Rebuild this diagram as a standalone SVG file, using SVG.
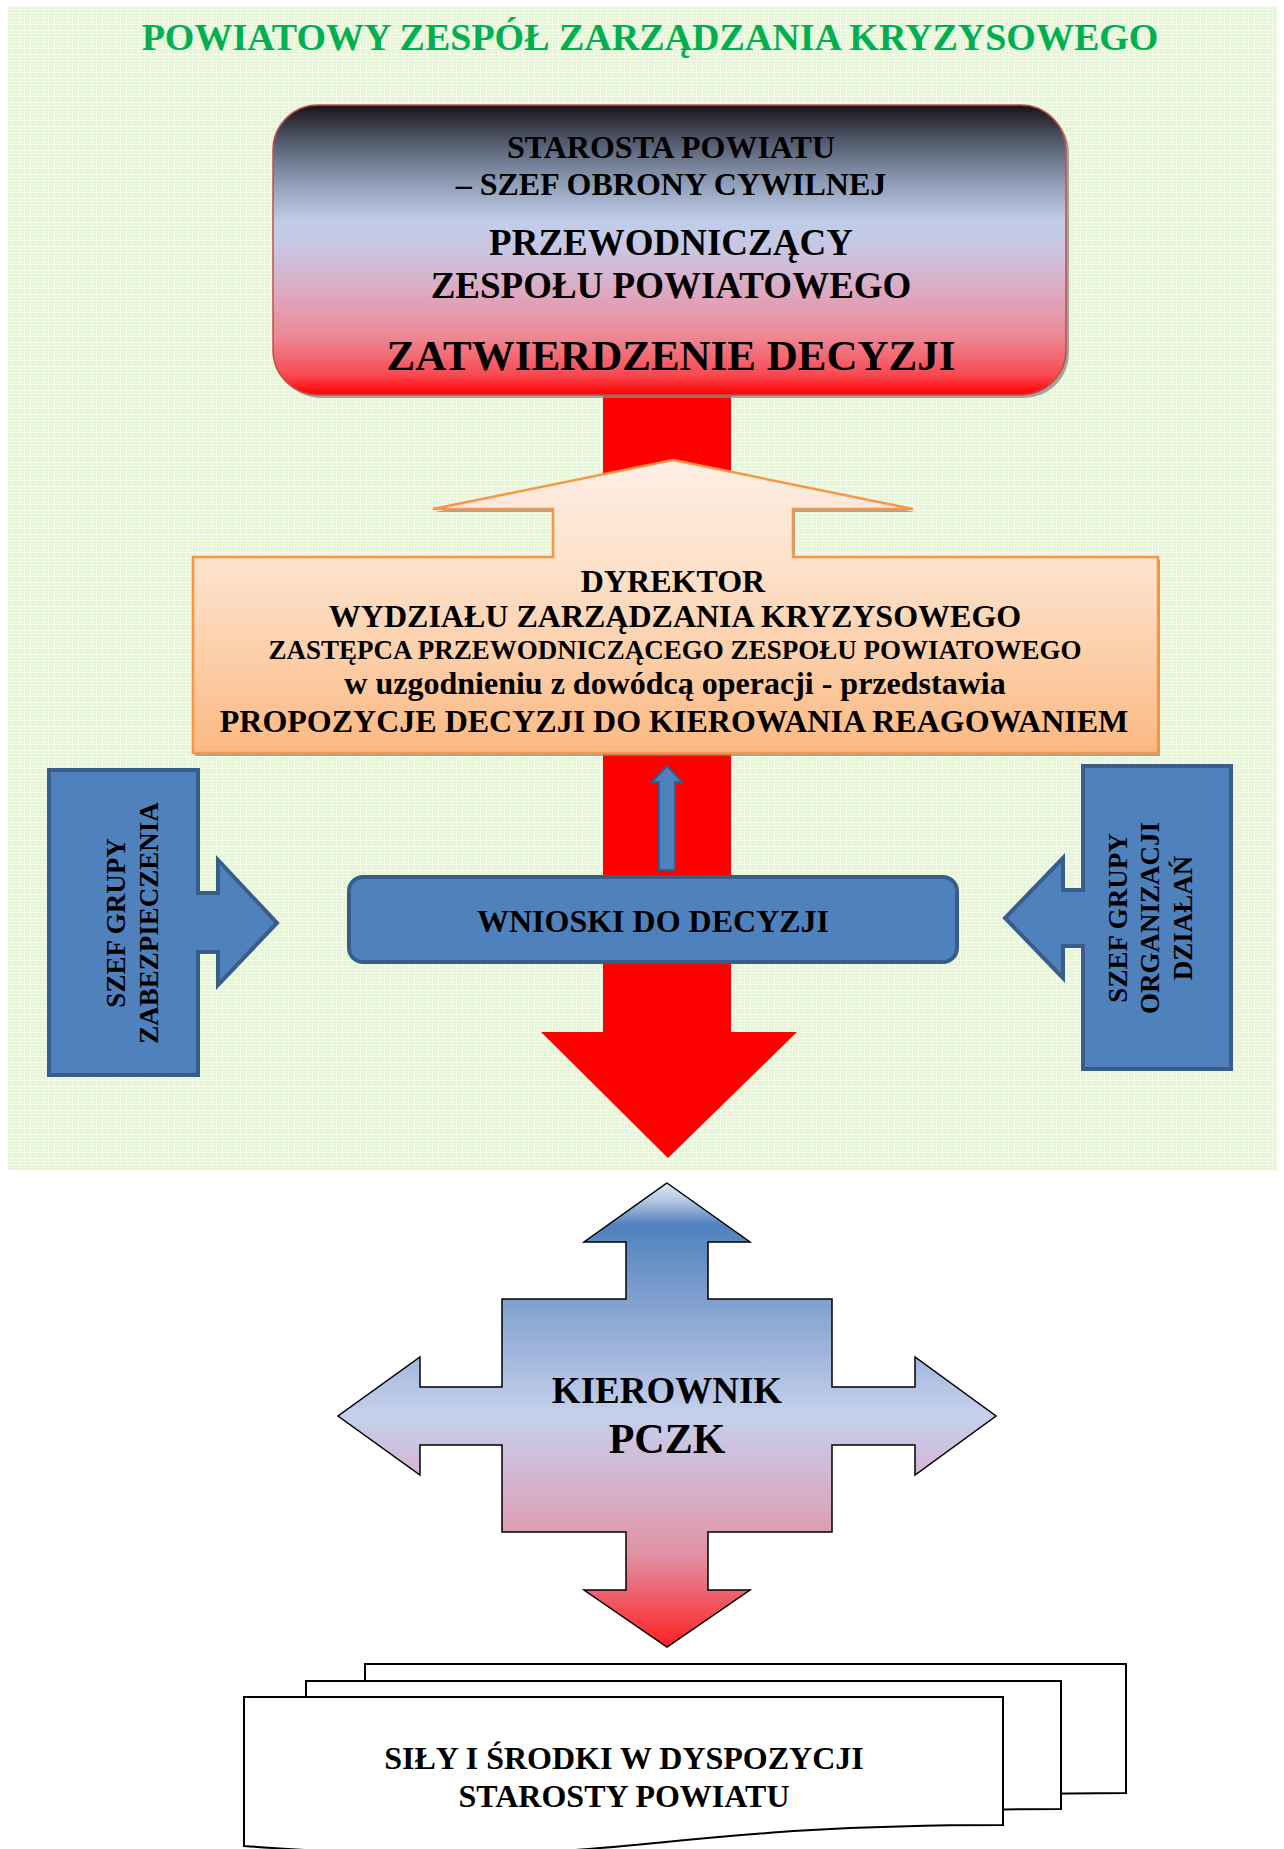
<svg xmlns="http://www.w3.org/2000/svg" width="1284" height="1849" viewBox="0 0 1284 1849">
<defs>
<pattern id="grid" width="6" height="6" patternUnits="userSpaceOnUse">
<rect width="6" height="6" fill="#e3f5cc"/>
<path d="M0,0.5H6M0.5,0V6" stroke="#f7fcf0" stroke-width="1"/>
<path d="M0,3.5H6M3.5,0V6" stroke="#ecf9df" stroke-width="1"/>
</pattern>
<linearGradient id="gTop" x1="0" y1="0" x2="0" y2="1">
<stop offset="0" stop-color="#1a1216"/>
<stop offset="0.12" stop-color="#50586a"/>
<stop offset="0.26" stop-color="#8b99b2"/>
<stop offset="0.4" stop-color="#c0cde9"/>
<stop offset="0.5" stop-color="#c9c6e2"/>
<stop offset="0.65" stop-color="#dea8c0"/>
<stop offset="0.8" stop-color="#ec8894"/>
<stop offset="0.93" stop-color="#fa4a52"/>
<stop offset="1" stop-color="#ff0000"/>
</linearGradient>
<linearGradient id="gOrange" x1="0" y1="0" x2="0" y2="1">
<stop offset="0" stop-color="#fdeee4"/>
<stop offset="0.4" stop-color="#fde0c8"/>
<stop offset="1" stop-color="#fbb983"/>
</linearGradient>
<linearGradient id="gCross" x1="0" y1="0" x2="0" y2="1">
<stop offset="0" stop-color="#e2eaf5"/>
<stop offset="0.04" stop-color="#b2c5e1"/>
<stop offset="0.09" stop-color="#4f81bd"/>
<stop offset="0.3" stop-color="#8ea9d4"/>
<stop offset="0.5" stop-color="#c5d0ec"/>
<stop offset="0.63" stop-color="#d4b6d2"/>
<stop offset="0.8" stop-color="#e191a5"/>
<stop offset="1" stop-color="#ff2020"/>
</linearGradient>
<style>
.t{font-family:"Liberation Serif","Times New Roman",serif;font-weight:bold;fill:#000;text-anchor:middle}
.blue{fill:#4f81bd;stroke:#385d8a;stroke-width:4;stroke-linejoin:miter}
.sheet{fill:#fff;stroke:#000;stroke-width:2}
.shadow{fill:#8a8a8a;opacity:0.75}
</style>
</defs>

<g id="background">
<rect x="8" y="6" width="1269" height="1164" fill="url(#grid)"/>
</g>

<g id="title">
<text class="t" x="650" y="50" font-size="38" style="fill:#00b050">POWIATOWY ZESPÓŁ ZARZĄDZANIA KRYZYSOWEGO</text>
</g>

<g id="connectors">
<path id="red-arrow" d="M603,390 H731 V1032 H797 L668,1158 L541,1032 H603 Z" fill="#ff0000"/>
</g>

<g id="starosta">
<rect x="276" y="108" width="793" height="290" rx="45" ry="45" class="shadow"/>
<rect x="273" y="105" width="793" height="290" rx="45" ry="45" fill="url(#gTop)" stroke="#c0504d" stroke-width="1.5"/>
<text class="t" x="671" y="158" font-size="32">STAROSTA POWIATU</text>
<text class="t" x="671" y="195" font-size="32">– SZEF OBRONY CYWILNEJ</text>
<text class="t" x="671" y="255" font-size="37">PRZEWODNICZĄCY</text>
<text class="t" x="671" y="298" font-size="37">ZESPOŁU POWIATOWEGO</text>
<text class="t" x="671" y="370" font-size="43">ZATWIERDZENIE DECYZJI</text>
</g>

<g id="dyrektor">
<path d="M675,463 L915,512 H795 V560 H1160 V756 H195 V560 H555 V512 H435 Z" class="shadow"/>
<path d="M673,460 L913,509 H793 V557 H1158 V753 H193 V557 H553 V509 H433 Z" fill="url(#gOrange)" stroke="#f79646" stroke-width="2.5" stroke-linejoin="miter"/>
<text class="t" x="673" y="592" font-size="32">DYREKTOR</text>
<text class="t" x="675" y="627" font-size="32">WYDZIAŁU ZARZĄDZANIA KRYZYSOWEGO</text>
<text class="t" x="675" y="659" font-size="27">ZASTĘPCA PRZEWODNICZĄCEGO ZESPOŁU POWIATOWEGO</text>
<text class="t" x="675" y="694" font-size="32">w uzgodnieniu z dowódcą operacji - przedstawia</text>
<text class="t" x="674" y="732" font-size="32">PROPOZYCJE DECYZJI DO KIEROWANIA REAGOWANIEM</text>
</g>

<g id="small-arrow">
<path d="M667,766 L682,782 H675 V870 H659 V782 H652 Z" fill="#4f81bd" stroke="#385d8a" stroke-width="2"/>
</g>

<g id="szef-zabezpieczenia">
<path class="blue" d="M49,770 H198 V893 H218 V860 L277,923 L218,985 V952 H198 V1075 H49 Z"/>
<text class="t" font-size="27" transform="translate(125,923) rotate(-90)">SZEF GRUPY</text>
<text class="t" font-size="27" transform="translate(158,923) rotate(-90)">ZABEZPIECZENIA</text>
</g>

<g id="wnioski">
<rect class="blue" x="349" y="877" width="608" height="85" rx="14" ry="14"/>
<text class="t" x="653" y="932" font-size="32">WNIOSKI DO DECYZJI</text>
</g>

<g id="szef-organizacji">
<path class="blue" d="M1231,766 H1083 V890 H1063 V858 L1005,918 L1063,978 V946 H1083 V1069 H1231 Z"/>
<text class="t" font-size="27" transform="translate(1127,918) rotate(-90)">SZEF GRUPY</text>
<text class="t" font-size="27" transform="translate(1159,918) rotate(-90)">ORGANIZACJI</text>
<text class="t" font-size="27" transform="translate(1192,918) rotate(-90)">DZIAŁAŃ</text>
</g>

<g id="kierownik">
<path d="M667,1183 L750,1242 H708 V1299 H832 V1387 H915 V1357 L996,1416 L915,1475 V1445 H832 V1532 H708 V1590 H750 L667,1647 L584,1590 H626 V1532 H502 V1445 H420 V1475 L338,1416 L420,1357 V1387 H502 V1299 H626 V1242 H584 Z" fill="url(#gCross)" stroke="#000" stroke-width="1.5" stroke-linejoin="miter"/>
<text class="t" x="667" y="1403" font-size="37">KIEROWNIK</text>
<text class="t" x="667" y="1453" font-size="42">PCZK</text>
</g>

<g id="sily-i-srodki">
<path class="sheet" d="M365,1664 H1126 V1793 C745,1793 745,1842 365,1814 Z"/>
<path class="sheet" d="M306,1681 H1061 V1809 C683,1809 683,1858 306,1830 Z"/>
<path class="sheet" d="M244,1697 H1003 V1825 C623,1825 623,1874 244,1846 Z"/>
<text class="t" x="624" y="1769" font-size="32">SIŁY I ŚRODKI W DYSPOZYCJI</text>
<text class="t" x="624" y="1807" font-size="32">STAROSTY POWIATU</text>
</g>
</svg>
